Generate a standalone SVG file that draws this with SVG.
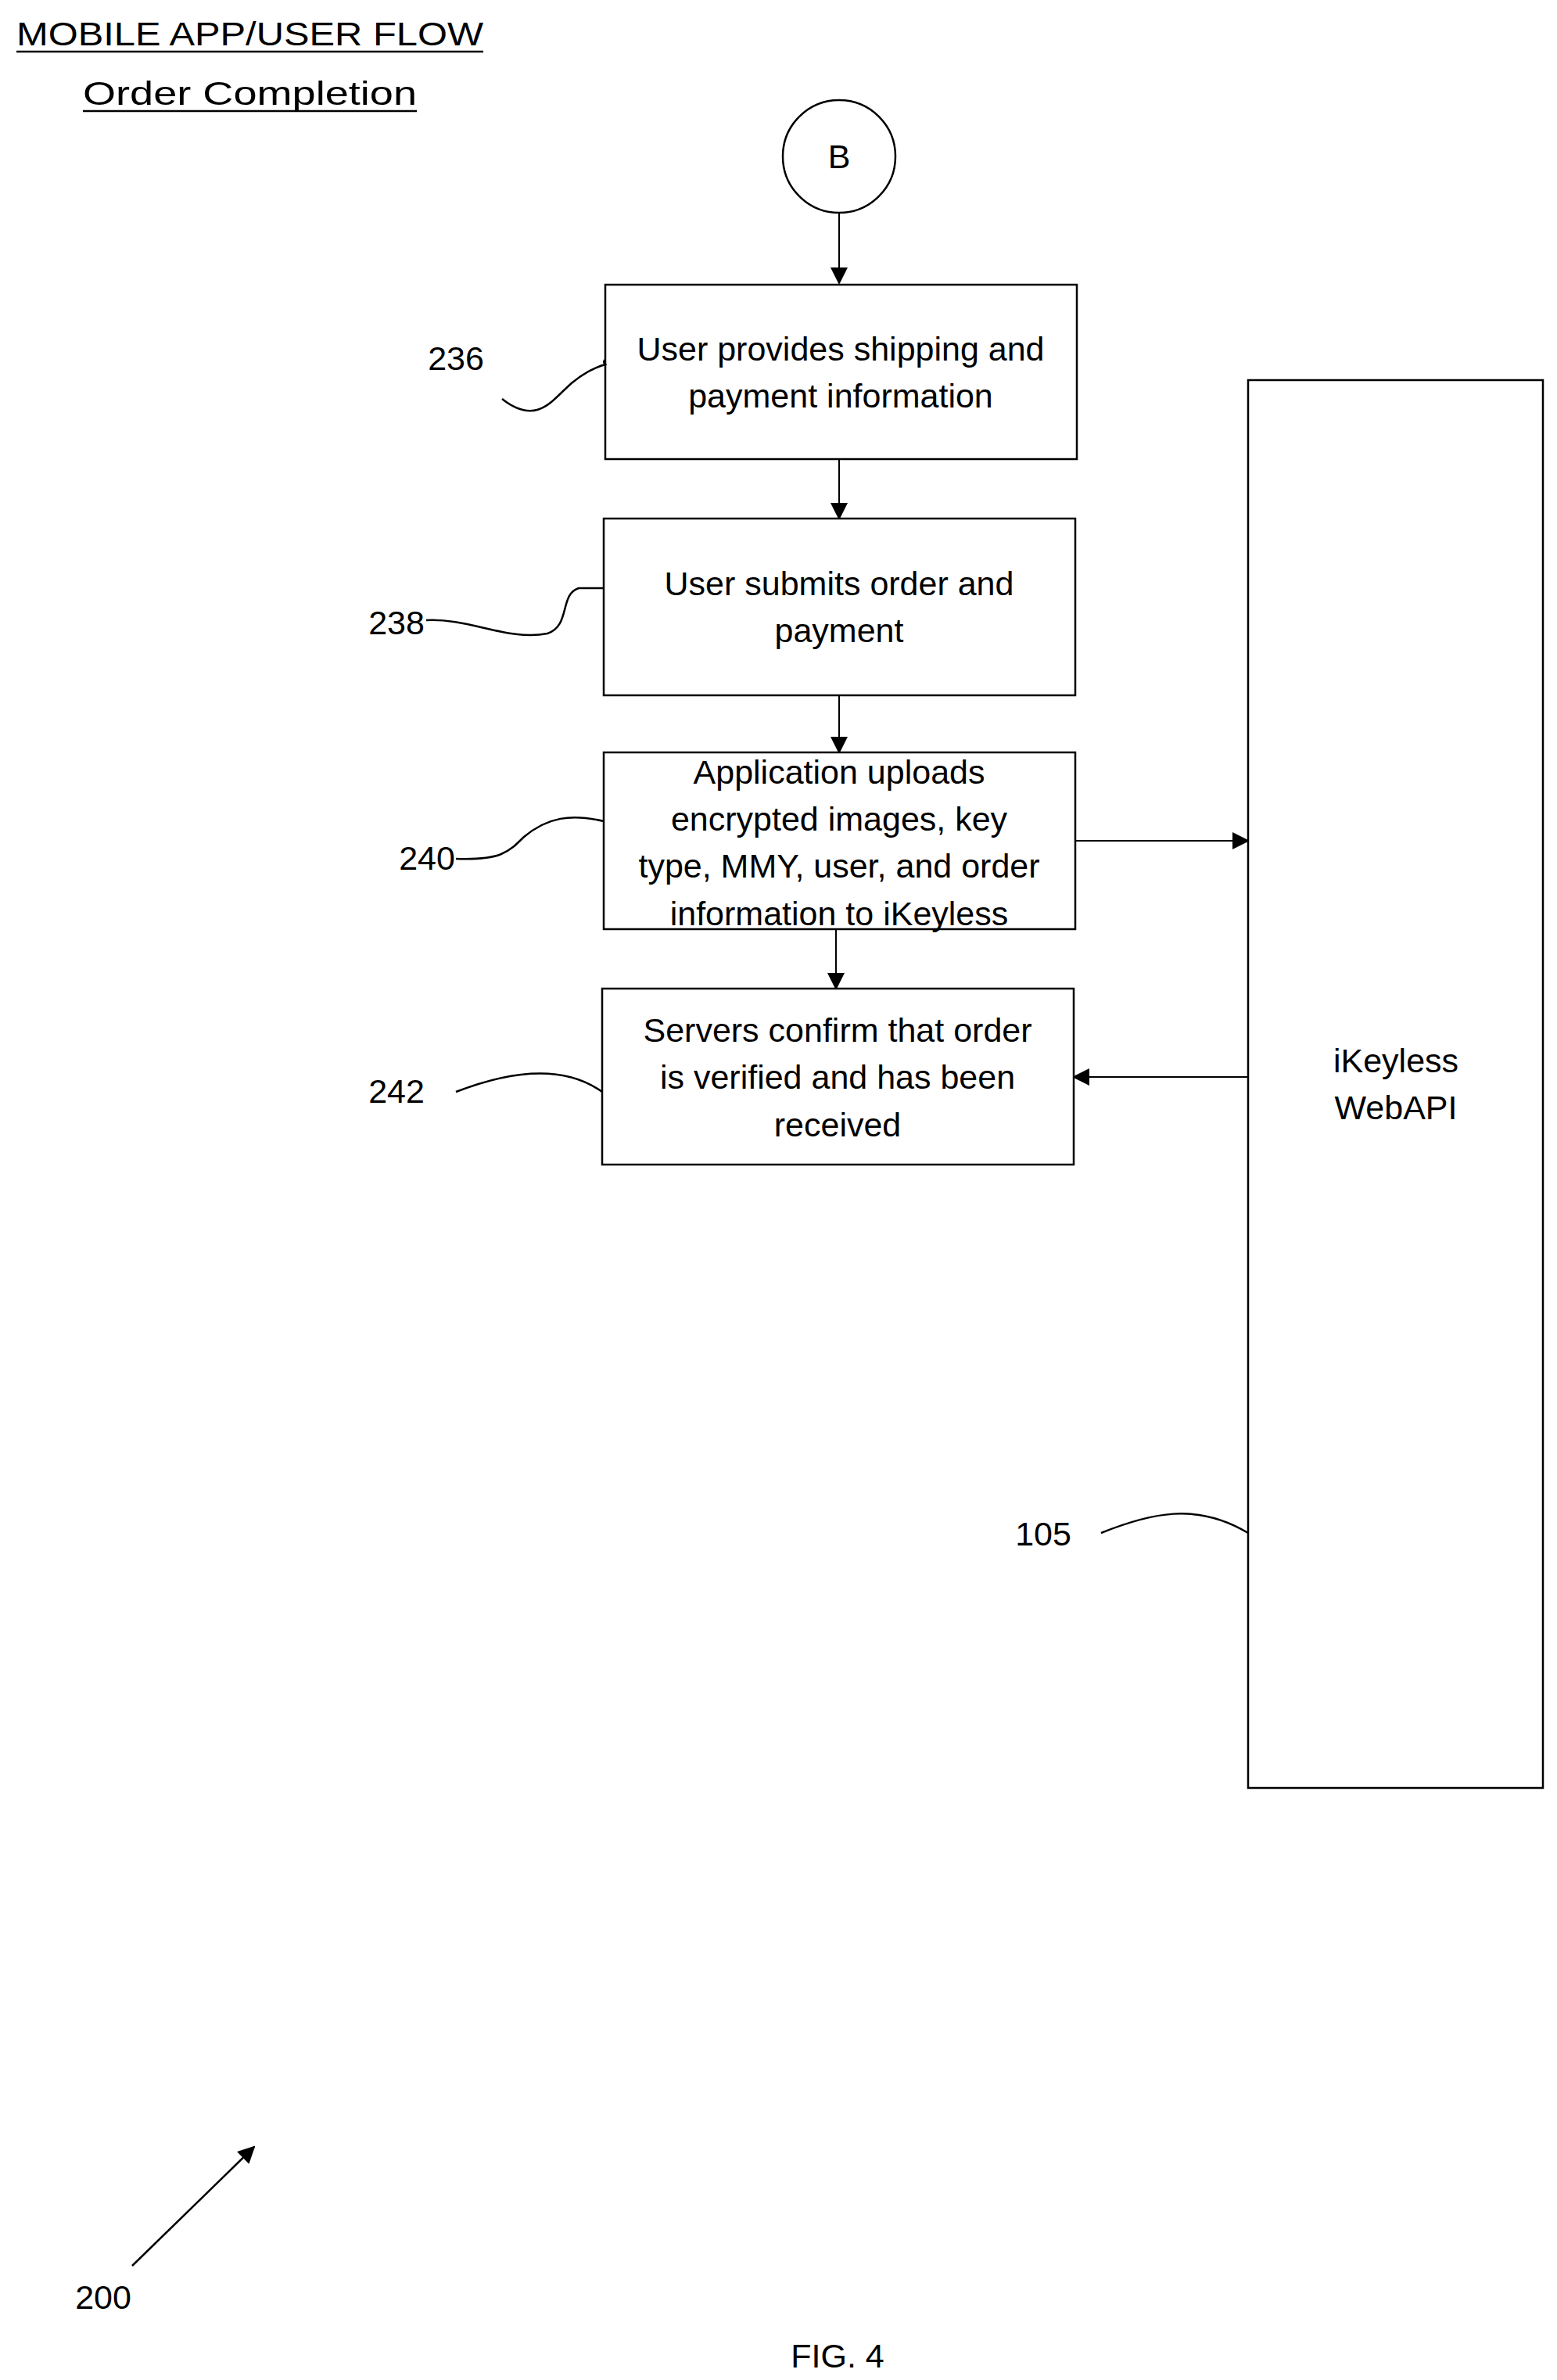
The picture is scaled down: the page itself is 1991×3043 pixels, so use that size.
<svg xmlns="http://www.w3.org/2000/svg" width="1991" height="3043" viewBox="0 0 1991 3043">
<style>
text{font-family:"Liberation Sans",Arial,sans-serif;font-size:43px;fill:#000}
.c{text-anchor:middle}
.b{fill:#fff;stroke:#000;stroke-width:2.5}
.l{fill:none;stroke:#000;stroke-width:2}
.s{fill:none;stroke:#000;stroke-width:2.5}
</style>
<defs>
<marker id="A" markerWidth="22" markerHeight="22" refX="20" refY="11" orient="auto" markerUnits="userSpaceOnUse" viewBox="0 0 22 22"><path d="M0,0L22,11L0,22z" fill="#000"/></marker></defs>
<rect width="1991" height="3043" fill="#fff"/>
<g id="title">
<text x="21" y="58" font-size="48" textLength="597" lengthAdjust="spacingAndGlyphs">MOBILE APP/USER FLOW</text>
<line x1="21" y1="66" x2="618" y2="66" stroke="#000" stroke-width="2.5"/>
<text x="106" y="134" font-size="48" textLength="427" lengthAdjust="spacingAndGlyphs">Order Completion</text>
<line x1="106" y1="142" x2="533" y2="142" stroke="#000" stroke-width="2.5"/>
</g>
<g id="connectors">
<line class="l" x1="1073" y1="272" x2="1073" y2="362" marker-end="url(#A)"/>
<line class="l" x1="1073" y1="587" x2="1073" y2="663" marker-end="url(#A)"/>
<line class="l" x1="1073" y1="889" x2="1073" y2="962" marker-end="url(#A)"/>
<line class="l" x1="1069" y1="1188" x2="1069" y2="1264" marker-end="url(#A)"/>
<line class="l" x1="1375" y1="1075" x2="1596" y2="1075" marker-end="url(#A)"/>
<line class="l" x1="1596" y1="1377" x2="1373" y2="1377" marker-end="url(#A)"/>
</g>
<g id="B"><circle cx="1073" cy="200" r="72" class="b"/><text x="1073" y="215" class="c">B</text></g>
<g id="n236"><rect x="774" y="364" width="603" height="223" class="b"/>
<text x="1075" y="461" class="c">User provides shipping and</text><text x="1075" y="521" class="c">payment information</text></g>
<g id="n238"><rect x="772" y="663" width="603" height="226" class="b"/>
<text x="1073" y="761" class="c">User submits order and</text><text x="1073" y="821" class="c">payment</text></g>
<g id="n240"><rect x="772" y="962" width="603" height="226" class="b"/>
<text x="1073" y="1002" class="c">Application uploads</text><text x="1073" y="1062" class="c">encrypted images, key</text><text x="1073" y="1122" class="c">type, MMY, user, and order</text><text x="1073" y="1183" class="c">information to iKeyless</text></g>
<g id="n242"><rect x="770" y="1264" width="603" height="225" class="b"/>
<text x="1071" y="1332" class="c">Servers confirm that order</text><text x="1071" y="1392" class="c">is verified and has been</text><text x="1071" y="1453" class="c">received</text></g>
<g id="n105"><rect x="1596" y="486" width="377" height="1800" class="b"/>
<text x="1785" y="1371" class="c">iKeyless</text><text x="1785" y="1431" class="c">WebAPI</text></g>
<g id="refs">
<text x="583" y="473" class="c">236</text>
<path class="s" d="M642,510 C680,540 700,520 720,500 C740,480 760,470 774,466 C770,462 774,460 774,460"/>
<text x="507" y="811" class="c">238</text>
<path class="s" d="M545,793 C600,790 650,820 700,810 C730,800 715,760 740,752 L772,752"/>
<text x="546" y="1112" class="c">240</text>
<path class="s" d="M583,1098 C640,1100 650,1090 670,1070 C700,1045 730,1040 772,1050"/>
<text x="507" y="1410" class="c">242</text>
<path class="s" d="M583,1396 C650,1370 720,1360 770,1396"/>
<text x="1334" y="1976" class="c">105</text>
<path class="s" d="M1408,1960 C1470,1935 1530,1920 1596,1960"/>
</g>
<g id="fig200"><line x1="169" y1="2897" x2="325" y2="2745" stroke="#000" stroke-width="2.5" marker-end="url(#A)"/>
<text x="132" y="2952" class="c">200</text></g>
<text x="1071" y="3027" class="c">FIG. 4</text>
</svg>
